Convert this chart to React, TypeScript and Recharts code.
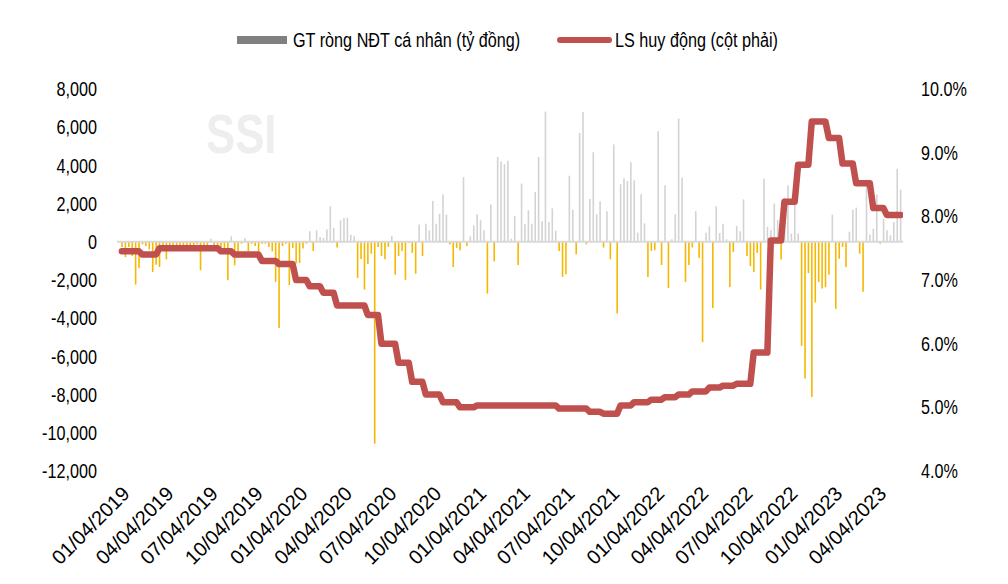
import React from 'react';
import { ComposedChart, Bar, Line, XAxis, YAxis, ReferenceLine, Legend, Cell } from 'recharts';

const FONT = "'Liberation Sans', Arial, sans-serif";
const SX = 0.81; // horizontal condensing to mimic Arial Narrow

const START_DATE = '01/04/2019';

// Weekly net value of individual investors (billion VND), week 0 = 01/04/2019
const netValues: number[] = [
  -270, -800, -270, -740, -2240, -1370, -130, -220, -400, -1580,
  -1200, -1320, -350, -920, -220, -200, -200, -200, -250, -250,
  -350, -250, -130, -1490, -220, -250, 165, -220, -220, -270,
  -350, -2010, 290, -1230, -830, -100, 200, -500, -100, -220,
  -530, -100, -100, -270, -500, -2100, -4510, -220, -100, -2270,
  -320, -1140, -1110, -350, -100, 550, -480, 600, 250, 200,
  650, 1860, 720, -300, 1120, 1250, 1265, 375, 290, -1890,
  -900, -2500, -1160, -620, -10570, -270, -740, -920, -270, 300,
  -1720, -740, -480, -1990, -60, -580, -1670, 900, -740, 950,
  600, 2140, 950, 1470, 2470, 1420, -130, -1320, -320, -440,
  3390, -220, 290, 860, 1440, 1130, 600, -2710, 1950, -1020,
  4440, 4210, 4060, 4250, 165, 1350, -1210, 3050, 920, 1650,
  950, 2610, 4440, 1080, 6820, 1040, 1750, 585, -480, -1840,
  -1700, 3460, 1680, -660, 5700, 6800, -130, 2240, 4690, 1440,
  2120, -300, 1600, -920, 5100, -3760, 3010, 3330, 3180, 4160,
  3220, 480, 2490, 970, -1840, -480, -440, 5790, -1210, 2960,
  -2420, 130, 1440, 6450, 3360, -2100, -1210, -300, 1600, -850,
  -5260, 480, 810, -3470, 1860, 460, 950, 130, -2370, -530,
  830, 550, 2220, -740, -1270, -1580, -580, -2500, 3300, 780,
  600, 2000, 1130, -930, 2300, 2960, 430, 2340, 430, -5450,
  -7160, -1640, -8120, -3180, -2100, -2450, -2370, -1720, 1420, -3510,
  -890, -270, -1320, 530, 1680, 1790, -620, -2620, 3250, 375,
  690, 2470, -100, 1210, 600, 340, 1040, 3820, 2730,
];

// Weekly deposit rate (%), right axis
const depositRates: number[] = [
  7.45, 7.45, 7.45, 7.45, 7.45, 7.45, 7.4, 7.4, 7.4, 7.4,
  7.4, 7.5, 7.5, 7.5, 7.5, 7.5, 7.5, 7.5, 7.5, 7.5,
  7.5, 7.5, 7.5, 7.5, 7.5, 7.5, 7.5, 7.5, 7.5, 7.45,
  7.45, 7.45, 7.45, 7.4, 7.4, 7.4, 7.4, 7.4, 7.4, 7.4,
  7.4, 7.3, 7.3, 7.3, 7.3, 7.3, 7.25, 7.25, 7.25, 7.25,
  7.25, 7.0, 7.0, 7.0, 7.0, 6.9, 6.9, 6.9, 6.9, 6.8,
  6.8, 6.8, 6.8, 6.6, 6.6, 6.6, 6.6, 6.6, 6.6, 6.6,
  6.6, 6.6, 6.45, 6.45, 6.45, 6.45, 6.0, 6.0, 6.0, 6.0,
  6.0, 5.7, 5.7, 5.7, 5.7, 5.4, 5.4, 5.4, 5.4, 5.2,
  5.2, 5.2, 5.2, 5.2, 5.08, 5.08, 5.08, 5.08, 5.08, 5.0,
  5.0, 5.0, 5.0, 5.0, 5.03, 5.03, 5.03, 5.03, 5.03, 5.03,
  5.03, 5.03, 5.03, 5.03, 5.03, 5.03, 5.03, 5.03, 5.03, 5.03,
  5.03, 5.03, 5.03, 5.03, 5.03, 5.03, 5.03, 5.03, 4.98, 4.98,
  4.98, 4.98, 4.98, 4.98, 4.98, 4.98, 4.98, 4.93, 4.93, 4.93,
  4.93, 4.9, 4.9, 4.9, 4.9, 4.9, 5.03, 5.03, 5.03, 5.03,
  5.08, 5.08, 5.08, 5.08, 5.08, 5.12, 5.12, 5.12, 5.12, 5.16,
  5.16, 5.16, 5.16, 5.2, 5.2, 5.2, 5.2, 5.25, 5.25, 5.25,
  5.25, 5.25, 5.31, 5.31, 5.31, 5.31, 5.34, 5.34, 5.34, 5.34,
  5.37, 5.37, 5.37, 5.37, 5.37, 5.86, 5.86, 5.86, 5.86, 5.86,
  7.62, 7.62, 7.62, 7.62, 8.23, 8.23, 8.23, 8.23, 8.81, 8.81,
  8.81, 8.81, 9.49, 9.49, 9.49, 9.49, 9.49, 9.23, 9.23, 9.23,
  9.23, 8.83, 8.83, 8.83, 8.83, 8.52, 8.52, 8.52, 8.52, 8.52,
  8.13, 8.13, 8.13, 8.13, 8.02, 8.02, 8.02, 8.02, 8.02,
];

const xTickLabels: string[] = [
  '01/04/2019', '04/04/2019', '07/04/2019', '10/04/2019',
  '01/04/2020', '04/04/2020', '07/04/2020', '10/04/2020',
  '01/04/2021', '04/04/2021', '07/04/2021', '10/04/2021',
  '01/04/2022', '04/04/2022', '07/04/2022', '10/04/2022',
  '01/04/2023', '04/04/2023',
];

const leftTicks: number[] = [-12000, -10000, -8000, -6000, -4000, -2000, 0, 2000, 4000, 6000, 8000];
const rightTicks: number[] = [4, 5, 6, 7, 8, 9, 10];

const SERIES_BAR = 'GT ròng NĐT cá nhân (tỷ đồng)';
const SERIES_LINE = 'LS huy động (cột phải)';
const WATERMARK = 'SSI';

const toUTC = (s: string) => {
  const [m, d, y] = s.split('/').map(Number);
  return Date.UTC(y, m - 1, d);
};
const DAY = 86400000;
const t0 = toUTC(START_DATE);
const tickDays = xTickLabels.map((s) => Math.round((toUTC(s) - t0) / DAY));
const labelByDay: Record<number, string> = {};
tickDays.forEach((d, i) => (labelByDay[d] = xTickLabels[i]));

const data = netValues.map((v, i) => ({ d: i * 7, v, r: depositRates[i] }));

const POS = '#d3d3d3';
const NEG = '#f5b800';
const RED = '#c0504d';

const XTick = (props: any) => {
  const { x, y, payload } = props;
  const ax = x + 9;
  const ay = y + 24;
  return (
    <text
      x={0}
      y={0}
      transform={`translate(${ax}, ${ay}) rotate(-45)`}
      textAnchor="end"
      fill="#000"
      fontSize={20}
      fontFamily={FONT}
    >
      {labelByDay[payload.value] ?? ''}
    </text>
  );
};

const LeftTick = (props: any) => {
  const { x, y, payload } = props;
  return (
    <text
      x={0}
      y={0}
      dy="0.355em"
      transform={`translate(${x}, ${y}) scale(${SX}, 1)`}
      textAnchor="end"
      fill="#000"
      fontSize={20}
      fontFamily={FONT}
    >
      {Number(payload.value).toLocaleString('en-US')}
    </text>
  );
};

const RightTick = (props: any) => {
  const { x, y, payload } = props;
  return (
    <text
      x={0}
      y={0}
      dy="0.355em"
      transform={`translate(${x}, ${y}) scale(${SX}, 1)`}
      textAnchor="start"
      fill="#000"
      fontSize={20}
      fontFamily={FONT}
    >
      {`${Number(payload.value).toFixed(1)}%`}
    </text>
  );
};

const narrow: React.CSSProperties = {
  position: 'absolute',
  top: 0,
  transform: `scaleX(${SX})`,
  transformOrigin: 'left center',
  whiteSpace: 'nowrap',
  fontFamily: FONT,
  fontSize: 20,
  lineHeight: '24px',
  color: '#000',
};

const LegendContent = () => (
  <div style={{ position: 'relative', width: 992, height: 24 }}>
    <span style={{ position: 'absolute', left: 229, top: 8, width: 50, height: 8, background: '#808080' }} />
    <span style={{ ...narrow, left: 285 }}>{SERIES_BAR}</span>
    <span style={{ position: 'absolute', left: 549, top: 9, width: 55, height: 6, borderRadius: 3, background: RED }} />
    <span style={{ ...narrow, left: 607 }}>{SERIES_LINE}</span>
  </div>
);

export default function App() {
  return (
    <div style={{ position: 'relative', width: 992, height: 568, fontFamily: FONT }}>
      <div
        style={{
          position: 'absolute',
          left: 198,
          top: 96,
          fontFamily: FONT,
          fontWeight: 700,
          fontSize: 56,
          color: '#eeeeee',
          lineHeight: '60px',
          transform: 'scaleX(0.78)',
          transformOrigin: 'left top',
        }}
      >
        {WATERMARK}
      </div>
      <ComposedChart
        width={992}
        height={568}
        data={data}
        margin={{ top: 81, right: 0, bottom: 0, left: 0 }}
        style={{ position: 'absolute', left: 0, top: 0 }}
      >
        <XAxis
          dataKey="d"
          type="number"
          domain={[-10, 1601]}
          ticks={tickDays}
          interval={0}
          axisLine={false}
          tickLine={false}
          tickSize={0}
          tickMargin={0}
          height={105}
          tick={<XTick />}
          allowDataOverflow
        />
        <YAxis
          yAxisId="left"
          orientation="left"
          domain={[-12000, 8000]}
          ticks={leftTicks}
          interval={0}
          width={109}
          axisLine={false}
          tickLine={false}
          tickSize={0}
          tickMargin={20}
          tick={<LeftTick />}
        />
        <YAxis
          yAxisId="right"
          orientation="right"
          domain={[4, 10]}
          ticks={rightTicks}
          interval={0}
          width={97}
          axisLine={false}
          tickLine={false}
          tickSize={0}
          tickMargin={18}
          tick={<RightTick />}
        />
        <ReferenceLine yAxisId="left" y={0} stroke="#d9d9d9" strokeWidth={2} />
        <Bar yAxisId="left" dataKey="v" name={SERIES_BAR} barSize={1.6} isAnimationActive={false}>
          {data.map((e, i) => (
            <Cell key={i} fill={e.v >= 0 ? POS : NEG} />
          ))}
        </Bar>
        <Line
          yAxisId="right"
          dataKey="r"
          name={SERIES_LINE}
          type="linear"
          stroke={RED}
          strokeWidth={6.5}
          strokeLinecap="round"
          strokeLinejoin="round"
          dot={false}
          activeDot={false}
          isAnimationActive={false}
        />
        <Legend
          layout="horizontal"
          verticalAlign="middle"
          align="center"
          content={<LegendContent />}
          wrapperStyle={{ top: 20, left: 0, width: 992, height: 24 }}
        />
      </ComposedChart>
    </div>
  );
}
